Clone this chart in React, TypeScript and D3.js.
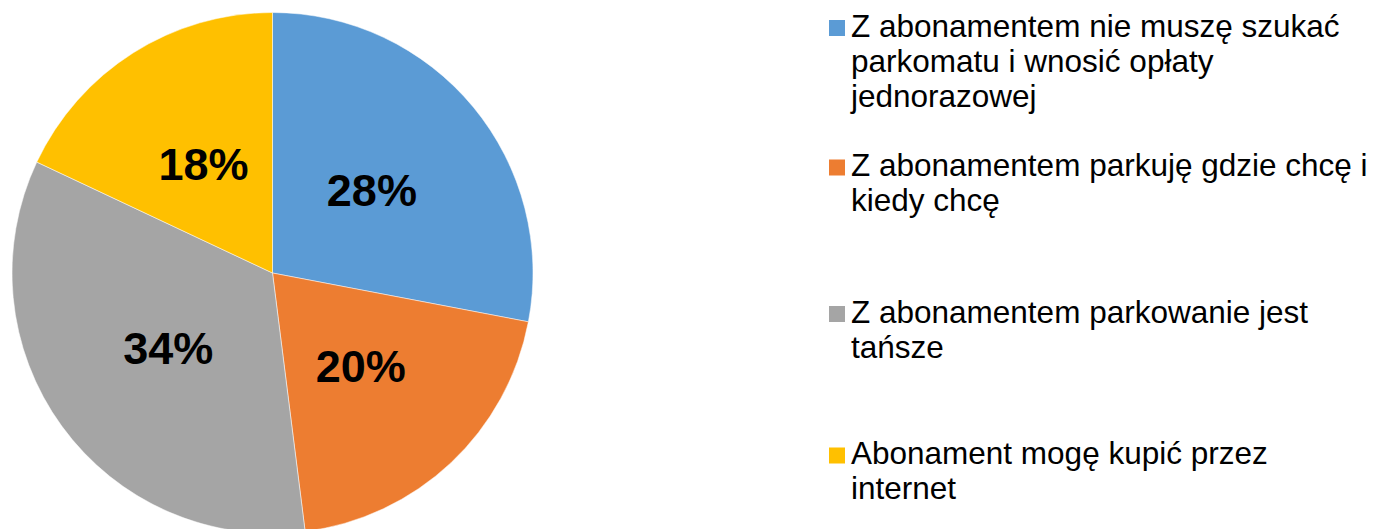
import React from 'react';
import * as d3 from 'd3';

const categories = [
  'Z abonamentem nie muszę szukać parkomatu i wnosić opłaty jednorazowej',
  'Z abonamentem parkuję gdzie chcę i kiedy chcę',
  'Z abonamentem parkowanie jest tańsze',
  'Abonament mogę kupić przez internet',
];
const legendLines = [
  ['Z abonamentem nie muszę szukać', 'parkomatu i wnosić opłaty', 'jednorazowej'],
  ['Z abonamentem parkuję gdzie chcę i', 'kiedy chcę'],
  ['Z abonamentem parkowanie jest', 'tańsze'],
  ['Abonament mogę kupić przez', 'internet'],
];
const values = [28, 20, 34, 18];
const colors = ['#5B9BD5', '#ED7D31', '#A5A5A5', '#FFC000'];
const legendTops = [25.5, 165, 311.5, 453];

const W = 1383;
const H = 529;
const cx = 272.5;
const cy = 273;
const radius = 260.5;

export default function App() {
  const pie = d3.pie<number>().sort(null).value(d => d);
  const arcs = pie(values);
  const arc = d3.arc<d3.PieArcDatum<number>>().innerRadius(0).outerRadius(radius);
  const labelArc = d3.arc<d3.PieArcDatum<number>>().innerRadius(radius * 0.495).outerRadius(radius * 0.495);

  return (
    <svg width={W} height={H} style={{ position: 'absolute', left: 0, top: 0, fontFamily: 'Liberation Sans, Arial, sans-serif' }}>
      <rect width={W} height={H} fill="#fff" />
      <g transform={`translate(${cx},${cy})`}>
        {arcs.map((a, i) => (
          <path key={i} d={arc(a) || ''} fill={colors[i]} stroke="#fff" strokeWidth={0.5} />
        ))}
        {arcs.map((a, i) => {
          const [x, y] = labelArc.centroid(a);
          return (
            <text key={i} x={x} y={y} textAnchor="middle" dominantBaseline="central" fontSize={45} fontWeight="bold" fill="#000">
              {Math.round(a.data)}%
            </text>
          );
        })}
      </g>
      <g>
        {categories.map((c, i) => (
          <g key={c}>
            <rect x={829} y={legendTops[i] - 5.5} width={16} height={16} fill={colors[i]} />
            {legendLines[i].map((line, j) => (
              <text key={j} x={851} y={legendTops[i] + j * 35} dominantBaseline="central" fontSize={31.5} fill="#000">
                {line}
              </text>
            ))}
          </g>
        ))}
      </g>
    </svg>
  );
}
